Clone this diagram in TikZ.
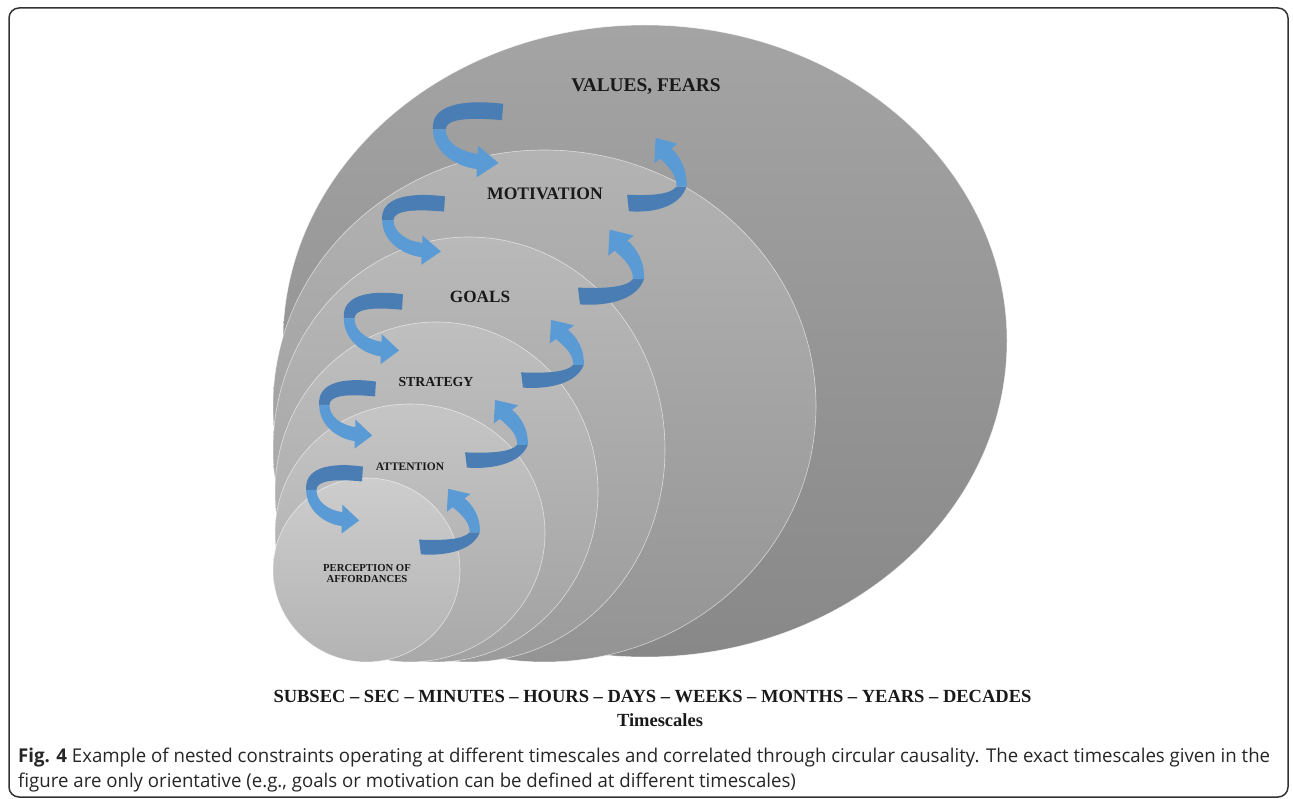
\documentclass[tikz,border=0pt]{standalone}
\usepackage{graphicx}
\usepackage{fontspec}
\setmainfont{Liberation Serif}
\newfontfamily\capfont{Open Sans}
\usetikzlibrary{shapes.geometric}
\definecolor{arLight}{HTML}{5B9BD5}
\definecolor{arDark}{HTML}{4A7DB4}
\definecolor{gAt}{HTML}{A4A4A4}\definecolor{gAb}{HTML}{888888}
\definecolor{gBt}{HTML}{B3B3B3}\definecolor{gBb}{HTML}{949494}
\definecolor{gCt}{HTML}{B9B9B9}\definecolor{gCb}{HTML}{9B9B9B}
\definecolor{gDt}{HTML}{BFBFBF}\definecolor{gDb}{HTML}{A2A2A2}
\definecolor{gEt}{HTML}{C5C5C5}\definecolor{gEb}{HTML}{A9A9A9}
\definecolor{gFt}{HTML}{CDCDCD}\definecolor{gFb}{HTML}{B3B3B3}
\newlength\capw
\newcommand\capone{\textbf{Fig. 4} Example of nested constraints operating at different timescales and correlated through circular causality. The exact timescales given in the}
\newcommand\captwo{figure are only orientative (e.g., goals or motivation can be defined at different timescales)}
\AtBeginDocument{\global\setbox0=\hbox{\capfont\fontsize{19}{23}\selectfont\capone}\global\capw=\wd0}
\tikzset{
  lvl/.style={ellipse, inner sep=0pt, draw=white, draw opacity=0.6, line width=0.6pt},
  lvltext/.style={font=\bfseries, inner sep=0pt, align=center, text=black!90},
  larrow/.pic={
    \fill[arDark] (1,-8) .. controls (-36,-13) and (-62,-6) .. (-60,17) -- (-49,17) .. controls (-49,7) and (-30,5) .. (0,8) -- cycle;
    \fill[arLight] (-60,17) .. controls (-60,38) and (-42,53) .. (-22,56) -- (-22,64) -- (-3,50) -- (-21,33) -- (-21,41) .. controls (-36,39) and (-49,30) .. (-49,17) -- cycle;
  },
  rarrow/.pic={
    \fill[arDark] (-1,-8) .. controls (25,-7) and (47,-8) .. (54,-16) -- (65,-16) .. controls (58,3) and (30,10) .. (1,8) -- cycle;
    \fill[arLight] (65,-16) .. controls (66,-33) and (57,-46) .. (48.4,-52.8) -- (54.8,-57.6) -- (30.6,-63.2) -- (29.2,-38.4) -- (35.6,-43.2) .. controls (44,-36) and (54,-28) .. (54,-16) -- cycle;
  }
}
\begin{document}
\begin{tikzpicture}[x=1pt,y=-1pt]
\useasboundingbox (0,0) rectangle (1293,799);
\draw[rounded corners=10pt, line width=1.5pt, black!80] (9,8) rectangle (1288,797);

% nested levels
\node[lvl, minimum width=724pt, minimum height=632pt, top color=gAt, bottom color=gAb] (e1) at (645,341) {};
\node[lvl, minimum width=543pt, minimum height=512pt, top color=gBt, bottom color=gBb] (e2) at (544.5,406) {};
\node[lvl, minimum width=392pt, minimum height=425pt, top color=gCt, bottom color=gCb] (e3) at (469,449.5) {};
\node[lvl, minimum width=323pt, minimum height=340pt, top color=gDt, bottom color=gDb] (e4) at (436.5,492) {};
\node[lvl, minimum width=270pt, minimum height=258pt, top color=gEt, bottom color=gEb] (e5) at (410,533) {};
\node[lvl, minimum width=187pt, minimum height=184pt, top color=gFt, bottom color=gFb] (e6) at (366.5,570) {};

% circular causality arrows
\pic[xscale=1.15, yscale=1.02] (l1) at (502,112) {larrow};
\pic[xscale=1.03, yscale=0.95] (l2) at (444,204) {larrow};
\pic[scale=0.97] (l3) at (402,302) {larrow};
\pic[scale=0.93] (l4) at (375,389) {larrow};
\pic[scale=0.93] (l5) at (362,474) {larrow};
\pic[xscale=0.9, yscale=1.03] (r1) at (628,203) {rarrow};
\pic[yscale=1.05] (r2) at (579,296) {rarrow};
\pic[scale=0.95] (r3) at (522,380) {rarrow};
\pic[scale=0.95] (r4) at (466,460) {rarrow};
\pic[scale=0.92] (r5) at (420,547) {rarrow};

% labels
\node[lvltext, font=\bfseries\fontsize{19.4}{22}\selectfont] (t1) at (646,87) {VALUES, FEARS};
\node[lvltext, font=\bfseries\fontsize{17.6}{20}\selectfont] (t2) at (545,194) {MOTIVATION};
\node[lvltext, font=\bfseries\fontsize{17.2}{20}\selectfont] (t3) at (480,297) {GOALS};
\node[lvltext, font=\bfseries\fontsize{13.8}{16}\selectfont] (t4) at (436,382) {STRATEGY};
\node[lvltext, font=\bfseries\fontsize{11.5}{13}\selectfont] (t5) at (410,467) {ATTENTION};
\node[lvltext, font=\bfseries\fontsize{10.7}{11}\selectfont] (t6) at (367,574) {PERCEPTION OF\\AFFORDANCES};

\node[lvltext, font=\bfseries\fontsize{18.5}{20}\selectfont] (ts) at (652.5,697) {SUBSEC – SEC – MINUTES – HOURS – DAYS – WEEKS – MONTHS – YEARS – DECADES};
\node[lvltext, font=\bfseries\fontsize{18.5}{20}\selectfont] (tsl) at (660,720) {Timescales};

% caption
\pgfmathsetmacro\capsx{1252/\the\capw}
\node[anchor=base west, inner sep=0pt, font=\capfont\fontsize{19}{23}\selectfont, text=black!85] (cap1) at (18,762) {\scalebox{\capsx}[1]{\capone}};
\node[anchor=base west, inner sep=0pt, font=\capfont\fontsize{19}{23}\selectfont, text=black!85] (cap2) at (18,787) {\scalebox{\capsx}[1]{\captwo}};
\end{tikzpicture}
\end{document}
